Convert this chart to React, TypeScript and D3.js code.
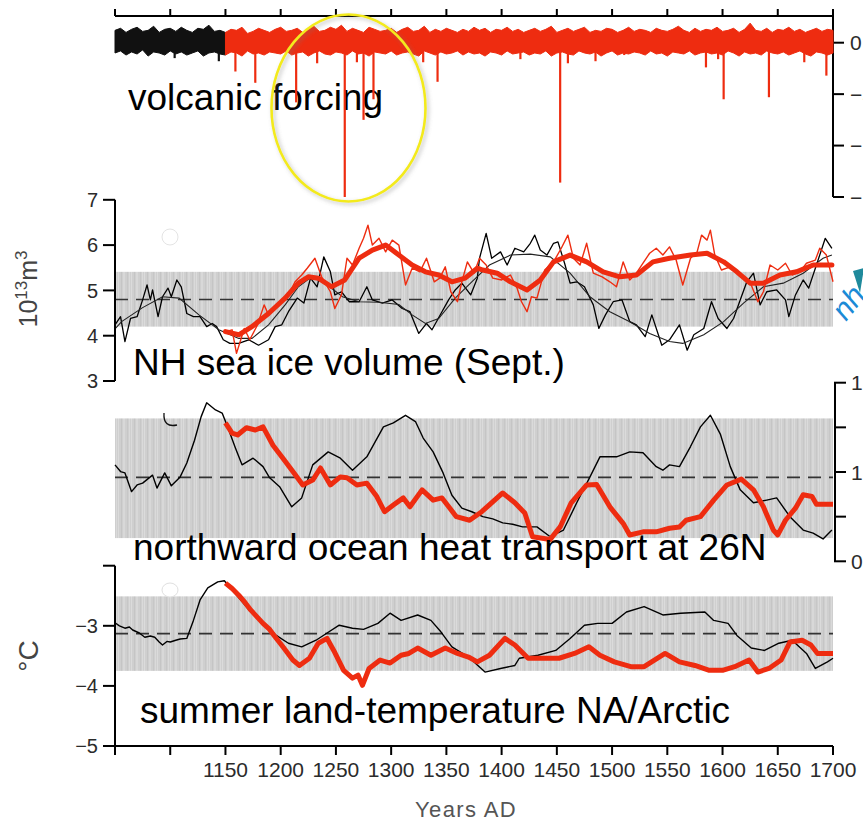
import React from 'react';
import * as d3 from 'd3';

const W = 863;
const H = 821;
const FONT = '"Liberation Sans", Arial, Helvetica, sans-serif';
const RED = '#ee2c10';

// ---- time axis ----
const yearTicks = [1050, 1100, 1150, 1200, 1250, 1300, 1350, 1400, 1450, 1500, 1550, 1600, 1650, 1700];
const yearLabels = [1150, 1200, 1250, 1300, 1350, 1400, 1450, 1500, 1550, 1600, 1650, 1700];
const spinupEnd = 1150;

// ---- volcanic forcing (W m-2), 5-year envelope of the annual series ----
const volcStart = 1050;
const volcStep = 5;
const volcHi = [
  1.2, 1.4, 1.0, 1.3, 1.5, 1.1, 1.2, 1.6, 1.0, 1.3,
  1.4, 1.1, 1.5, 1.2, 1.0, 1.4, 1.3, 1.7, 1.1, 1.2,
  1.0, 1.3, 1.2, 1.5, 0.9, 1.1, 1.4, 1.2, 1.0, 1.3,
  1.5, 1.1, 1.2, 1.4, 1.0, 1.3, 1.6, 1.1, 1.2, 1.5,
  1.3, 1.7, 1.1, 1.4, 1.2, 1.0, 1.5, 1.3, 1.1, 1.2,
  1.4, 1.0, 1.3, 1.5, 1.1, 1.2, 1.6, 1.0, 1.3, 1.1,
  1.4, 1.2, 1.0, 1.3, 1.1, 1.5, 1.2, 1.4, 1.0, 1.3,
  1.2, 1.5, 1.1, 1.3, 1.0, 1.2, 1.4, 1.1, 1.3, 1.6,
  1.0, 1.2, 1.4, 1.1, 1.3, 1.5, 1.0, 1.2, 1.1, 1.4,
  1.3, 1.0, 1.2, 1.5, 1.1, 1.3, 1.2, 1.0, 1.4, 1.2,
  1.1, 1.3, 1.6, 1.2, 1.0, 1.4, 1.1, 1.3, 1.2, 1.5,
  1.1, 1.2, 1.4, 1.0, 1.3, 1.9, 1.2, 1.1, 1.4, 1.0,
  1.3, 1.2, 1.5, 1.1, 1.3, 1.0, 1.2, 1.4, 1.1, 1.3,
  1.2,
];
const volcLo = [
  -1.0, -0.8, -1.2, -0.9, -1.1, -0.7, -1.3, -0.9, -1.0, -1.2,
  -0.8, -1.1, -0.9, -1.2, -1.0, -0.8, -1.3, -1.0, -0.9, -1.1,
  -1.2, -0.9, -1.0, -1.3, -0.8, -1.1, -1.0, -1.2, -0.9, -1.0,
  -1.1, -0.8, -1.2, -1.0, -0.9, -1.3, -1.0, -0.8, -1.1, -1.2,
  -0.9, -1.0, -1.2, -0.8, -1.1, -1.0, -1.3, -0.9, -1.0, -1.1,
  -0.8, -1.2, -1.0, -0.9, -1.1, -1.3, -0.8, -1.0, -1.2, -0.9,
  -1.1, -1.0, -0.8, -1.2, -0.9, -1.1, -1.0, -1.3, -0.9, -1.0,
  -1.2, -0.8, -1.1, -1.0, -0.9, -1.2, -1.0, -1.1, -0.8, -1.3,
  -1.0, -0.9, -1.1, -1.2, -0.8, -1.0, -1.1, -0.9, -1.3, -1.0,
  -0.8, -1.2, -1.0, -1.1, -0.9, -1.0, -1.2, -0.8, -1.1, -1.0,
  -1.3, -0.9, -1.0, -1.1, -0.8, -1.2, -1.0, -0.9, -1.1, -1.0,
  -1.2, -0.8, -1.0, -1.3, -0.9, -1.1, -1.0, -1.2, -0.8, -1.0,
  -1.1, -0.9, -1.2, -1.0, -0.8, -1.1, -1.3, -0.9, -1.0, -1.2,
  -1.0,
];
const eruptionYears = [1104, 1144, 1159, 1177, 1214, 1233, 1258, 1269, 1275, 1284, 1329, 1342, 1417, 1453, 1460, 1485, 1511, 1585, 1596, 1601, 1642, 1674, 1694];
const eruptionForcing = [-1.5, -1.8, -2.8, -3.9, -5.8, -2.0, -15.0, -1.9, -7.5, -5.5, -1.9, -3.8, -1.6, -13.6, -2.0, -1.8, -1.2, -2.4, -1.6, -5.5, -5.3, -1.9, -3.2];
const volcTicks = [0, -5, -10, -15];

// ---- NH September sea-ice volume (10^13 m^3) ----
const iceTicks = [3, 4, 5, 6, 7];
const iceBand = [4.2, 5.41];
const iceMean = 4.8;
const iceCtrlAnnual: [number, number][] = [
  [1050, 4.24], [1055, 4.42], [1059, 3.87], [1064, 4.38], [1070, 4.42], [1075, 4.79], [1079, 5.12], [1082, 4.79],
  [1084, 5.01], [1089, 4.42], [1093, 4.86], [1098, 5.05], [1101, 4.86], [1106, 5.23], [1110, 5.08], [1115, 4.49],
  [1121, 4.42], [1127, 4.42], [1133, 4.2], [1138, 4.27], [1142, 4.2], [1148, 3.91], [1154, 3.83], [1162, 3.83],
  [1171, 3.91], [1180, 3.79], [1189, 3.91], [1195, 4.2], [1201, 4.24], [1207, 4.53], [1215, 4.83], [1221, 4.72],
  [1227, 5.27], [1233, 5.08], [1239, 5.74], [1245, 5.41], [1249, 4.9], [1255, 4.97], [1262, 4.75], [1271, 4.75],
  [1278, 5.08], [1283, 4.79], [1292, 4.72], [1301, 4.79], [1310, 4.6], [1317, 4.53], [1325, 4.05], [1332, 4.27],
  [1337, 4.13], [1346, 4.53], [1352, 4.79], [1358, 5.01], [1364, 5.16], [1372, 4.9], [1378, 5.27], [1380, 5.71],
  [1386, 6.26], [1391, 5.71], [1399, 5.85], [1405, 5.56], [1412, 5.93], [1420, 5.85], [1426, 6.04], [1430, 6.22],
  [1435, 5.89], [1441, 5.78], [1447, 6.04], [1451, 6.07], [1457, 5.6], [1462, 5.16], [1468, 5.19], [1475, 5.08],
  [1483, 4.68], [1488, 4.16], [1494, 4.46], [1501, 4.75], [1509, 4.79], [1516, 4.31], [1522, 4.24], [1530, 3.98],
  [1536, 4.46], [1545, 3.79], [1552, 3.91], [1561, 4.24], [1568, 3.68], [1574, 4.02], [1583, 4.16], [1590, 4.75],
  [1596, 4.38], [1604, 4.16], [1610, 4.38], [1616, 4.79], [1622, 5.19], [1628, 5.38], [1634, 4.68], [1640, 4.97],
  [1649, 5.01], [1657, 4.79], [1660, 4.42], [1666, 4.9], [1673, 5.23], [1678, 5.05], [1685, 5.56], [1693, 6.15],
  [1699, 5.93],
];
const iceCtrlSmooth: [number, number][] = [
  [1050, 4.15], [1056, 4.31], [1075, 4.62], [1093, 4.86], [1108, 4.83], [1126, 4.46], [1144, 4.13], [1162, 3.94],
  [1174, 3.94], [1189, 4.24], [1204, 4.68], [1216, 5.08], [1228, 5.3], [1240, 5.16], [1256, 4.86], [1271, 4.75],
  [1289, 4.74], [1307, 4.69], [1319, 4.46], [1331, 4.27], [1343, 4.38], [1358, 4.83], [1373, 5.19], [1389, 5.56],
  [1408, 5.78], [1426, 5.8], [1444, 5.74], [1462, 5.38], [1480, 4.86], [1498, 4.53], [1516, 4.31], [1534, 4.05],
  [1552, 3.87], [1564, 3.83], [1583, 4.02], [1601, 4.31], [1619, 4.72], [1637, 5.08], [1655, 5.16], [1673, 5.38],
  [1691, 5.71], [1699, 5.78],
];
const iceForcedAnnual: [number, number][] = [
  [1150, 4.09], [1156, 4.13], [1160, 3.61], [1167, 4.16], [1172, 3.91], [1179, 4.24], [1185, 4.68], [1189, 4.46],
  [1195, 4.6], [1201, 4.79], [1207, 4.9], [1213, 5.19], [1219, 5.34], [1224, 5.49], [1231, 5.71], [1237, 5.3],
  [1245, 4.97], [1249, 4.6], [1255, 4.9], [1260, 5.71], [1265, 5.56], [1271, 5.93], [1275, 6.15], [1279, 6.44],
  [1283, 6.0], [1289, 6.15], [1295, 5.85], [1301, 6.11], [1307, 6.0], [1313, 5.12], [1319, 5.49], [1326, 5.41],
  [1332, 5.71], [1339, 5.19], [1344, 5.27], [1349, 5.52], [1354, 4.97], [1360, 4.75], [1364, 5.19], [1369, 5.63],
  [1375, 5.38], [1380, 5.71], [1386, 5.56], [1392, 5.27], [1400, 5.23], [1408, 5.34], [1414, 5.05], [1418, 4.75],
  [1423, 4.53], [1427, 4.86], [1432, 4.83], [1439, 5.45], [1447, 5.63], [1454, 5.93], [1460, 6.22], [1465, 5.71],
  [1471, 5.56], [1477, 6.04], [1483, 5.38], [1491, 5.3], [1498, 5.19], [1504, 5.08], [1510, 5.63], [1516, 5.23],
  [1522, 5.38], [1528, 5.6], [1534, 5.82], [1540, 5.93], [1546, 5.78], [1552, 5.96], [1558, 5.67], [1564, 5.12],
  [1571, 5.71], [1577, 5.85], [1581, 6.22], [1586, 6.11], [1589, 6.33], [1593, 5.78], [1599, 5.45], [1607, 5.52],
  [1613, 5.38], [1619, 5.27], [1626, 5.12], [1632, 4.75], [1637, 4.97], [1643, 5.56], [1650, 5.45], [1657, 5.6],
  [1663, 5.34], [1670, 5.41], [1676, 5.6], [1684, 5.67], [1688, 5.93], [1694, 5.78], [1700, 5.19],
];
const iceForcedSmooth: [number, number][] = [
  [1150, 4.09], [1162, 4.02], [1174, 4.2], [1189, 4.49], [1204, 4.83], [1216, 5.16], [1225, 5.3], [1234, 5.27],
  [1246, 5.08], [1258, 5.23], [1271, 5.71], [1283, 5.89], [1295, 6.0], [1307, 5.78], [1319, 5.56], [1331, 5.41],
  [1343, 5.34], [1355, 5.19], [1367, 5.27], [1378, 5.49], [1383, 5.45], [1396, 5.38], [1408, 5.19], [1423, 5.01],
  [1435, 5.23], [1447, 5.63], [1462, 5.78], [1477, 5.63], [1492, 5.41], [1507, 5.3], [1522, 5.34], [1537, 5.63],
  [1552, 5.71], [1571, 5.78], [1586, 5.82], [1601, 5.63], [1613, 5.41], [1625, 5.16], [1637, 5.16], [1652, 5.34],
  [1667, 5.41], [1682, 5.56], [1699, 5.56],
];

// ---- northward ocean heat transport at 26N (PW) ----
const heatTicks = [0.8, 0.9, 1.0, 1.1, 1.2];
const heatTickLabels = ['0.8', '', '1.0', '', '1.2'];
const heatBand = [0.852, 1.12];
const heatMean = 0.988;
const heatCtrl: [number, number][] = [
  [1050, 1.016], [1055, 1.001], [1059, 0.998], [1065, 0.956], [1070, 0.971], [1075, 0.975], [1082, 0.989], [1084, 0.993],
  [1088, 0.964], [1095, 0.998], [1101, 0.969], [1109, 0.989], [1115, 1.02], [1122, 1.071], [1128, 1.124], [1133, 1.155],
  [1141, 1.139], [1147, 1.132], [1152, 1.101], [1159, 1.054], [1165, 1.016], [1175, 1.031], [1184, 1.012], [1190, 0.987],
  [1199, 0.967], [1210, 0.922], [1219, 0.942], [1229, 1.016], [1243, 1.045], [1254, 1.031], [1265, 1.004], [1278, 1.034],
  [1293, 1.101], [1302, 1.11], [1313, 1.127], [1322, 1.113], [1329, 1.076], [1338, 1.045], [1347, 0.998], [1355, 0.948],
  [1364, 0.919], [1373, 0.911], [1383, 0.9], [1392, 0.895], [1401, 0.886], [1410, 0.883], [1419, 0.877], [1432, 0.877],
  [1444, 0.855], [1456, 0.87], [1468, 0.931], [1480, 0.989], [1489, 1.034], [1504, 1.034], [1516, 1.045], [1528, 1.043],
  [1540, 1.012], [1546, 1.004], [1552, 1.016], [1561, 1.012], [1571, 1.057], [1580, 1.101], [1589, 1.127], [1598, 1.085],
  [1607, 1.012], [1616, 0.96], [1628, 0.931], [1640, 0.937], [1649, 0.942], [1661, 0.9], [1673, 0.87], [1682, 0.863],
  [1691, 0.85], [1699, 0.87],
];
const heatForced: [number, number][] = [
  [1150, 1.11], [1156, 1.087], [1161, 1.083], [1169, 1.099], [1177, 1.094], [1184, 1.101], [1193, 1.06], [1202, 1.031],
  [1211, 1.001], [1220, 0.971], [1229, 0.982], [1236, 1.009], [1245, 0.971], [1254, 0.989], [1260, 0.987], [1269, 0.971],
  [1278, 0.975], [1287, 0.945], [1294, 0.911], [1302, 0.926], [1311, 0.942], [1317, 0.922], [1328, 0.96], [1338, 0.937],
  [1346, 0.942], [1359, 0.9], [1371, 0.892], [1382, 0.911], [1401, 0.953], [1412, 0.931], [1421, 0.908], [1428, 0.855],
  [1444, 0.849], [1453, 0.877], [1463, 0.931], [1477, 0.971], [1486, 0.972], [1498, 0.922], [1510, 0.885], [1516, 0.859],
  [1528, 0.866], [1540, 0.866], [1552, 0.874], [1561, 0.877], [1567, 0.892], [1580, 0.9], [1592, 0.937], [1604, 0.971],
  [1617, 0.984], [1628, 0.96], [1637, 0.922], [1646, 0.87], [1650, 0.859], [1657, 0.892], [1666, 0.919], [1673, 0.949],
  [1681, 0.945], [1685, 0.928], [1700, 0.928],
];

// ---- summer land temperature, North Atlantic / Arctic (degC) ----
const tempTicks = [-5, -4, -3, -2];
const tempTickLabels = ['\u22125', '\u22124', '\u22123', ''];
const tempBand = [-3.75, -2.51];
const tempMean = -3.13;
const tempCtrl: [number, number][] = [
  [1050, -2.95], [1054, -3.0], [1059, -3.04], [1063, -3.02], [1066, -3.07], [1072, -3.12], [1077, -3.19], [1082, -3.17],
  [1086, -3.19], [1090, -3.27], [1093, -3.32], [1097, -3.26], [1100, -3.27], [1105, -3.24], [1109, -3.22], [1115, -3.21],
  [1121, -2.91], [1127, -2.57], [1134, -2.37], [1143, -2.27], [1149, -2.25], [1160, -2.49], [1173, -2.77], [1186, -2.99],
  [1196, -3.16], [1207, -3.29], [1219, -3.35], [1232, -3.24], [1242, -3.12], [1253, -2.99], [1265, -3.04], [1275, -3.06],
  [1288, -2.96], [1299, -2.79], [1309, -2.91], [1324, -2.82], [1336, -2.91], [1345, -3.1], [1355, -3.35], [1370, -3.52],
  [1385, -3.77], [1399, -3.71], [1412, -3.66], [1416, -3.54], [1433, -3.49], [1449, -3.41], [1462, -3.21], [1475, -2.99],
  [1487, -2.96], [1500, -2.96], [1513, -2.77], [1529, -2.68], [1546, -2.82], [1562, -2.79], [1584, -2.77], [1592, -2.91],
  [1605, -2.96], [1613, -3.16], [1626, -3.37], [1638, -3.41], [1651, -3.29], [1663, -3.24], [1676, -3.46], [1684, -3.71],
  [1695, -3.6], [1700, -3.54],
];
const tempForced: [number, number][] = [
  [1150, -2.29], [1156, -2.38], [1162, -2.49], [1168, -2.62], [1173, -2.74], [1179, -2.86], [1184, -2.96], [1190, -3.06],
  [1194, -3.16], [1202, -3.35], [1211, -3.57], [1217, -3.66], [1226, -3.54], [1234, -3.29], [1242, -3.21], [1248, -3.41],
  [1257, -3.74], [1265, -3.87], [1270, -3.82], [1274, -3.99], [1280, -3.71], [1290, -3.57], [1299, -3.62], [1309, -3.49],
  [1316, -3.46], [1324, -3.37], [1336, -3.49], [1349, -3.37], [1360, -3.46], [1370, -3.52], [1378, -3.6], [1389, -3.49],
  [1403, -3.21], [1412, -3.32], [1424, -3.54], [1439, -3.54], [1452, -3.54], [1466, -3.46], [1479, -3.35], [1489, -3.49],
  [1502, -3.6], [1517, -3.68], [1529, -3.68], [1548, -3.46], [1561, -3.6], [1575, -3.66], [1588, -3.74], [1600, -3.74],
  [1611, -3.68], [1624, -3.57], [1632, -3.77], [1642, -3.71], [1653, -3.57], [1661, -3.27], [1672, -3.24], [1680, -3.32],
  [1686, -3.46], [1700, -3.46],
];

// ---- scales ----
const x = d3.scaleLinear().domain([1050, 1700]).range([115, 833]);
const yVolc = d3.scaleLinear().domain([0, -15]).range([42.7, 197]);
const yIce = d3.scaleLinear().domain([3, 7]).range([381, 199.8]);
const yHeat = d3.scaleLinear().domain([0.8, 1.2]).range([561.3, 382.7]);
const yTemp = d3.scaleLinear().domain([-5, -2]).range([746, 565.7]);

const mkLine = (y: d3.ScaleLinear<number, number>) =>
  d3.line<[number, number]>().x((d) => x(d[0])).y((d) => y(d[1])).curve(d3.curveLinear);

const volcRows = volcHi.map((hi, i) => ({ year: volcStart + i * volcStep, hi, lo: volcLo[i] }));
const volcArea = d3
  .area<{ year: number; hi: number; lo: number }>()
  .x((d) => x(d.year))
  .y0((d) => yVolc(d.lo))
  .y1((d) => yVolc(d.hi));

const tickText = { fontFamily: FONT, fontSize: 20, fill: '#2b2b2b' } as const;
const labelText = { fontFamily: FONT, fontSize: 37, fill: '#000' } as const;

function Band({ y0, y1 }: { y0: number; y1: number }) {
  return <rect x={x(1050)} y={Math.min(y0, y1)} width={x(1700) - x(1050)} height={Math.abs(y1 - y0)} fill="url(#stripes)" />;
}

function MeanLine({ y }: { y: number }) {
  return <line x1={x(1050)} x2={x(1700)} y1={y} y2={y} stroke="#333" strokeWidth={1.6} strokeDasharray="13 8" />;
}

export default function App() {
  const iceL = mkLine(yIce);
  const heatL = mkLine(yHeat);
  const tempL = mkLine(yTemp);
  const spin = volcRows.filter((d) => d.year <= spinupEnd);
  const forced = volcRows.filter((d) => d.year >= spinupEnd);

  return (
    <svg
      width={W}
      height={H}
      viewBox={`0 0 ${W} ${H}`}
      style={{ position: 'absolute', left: 0, top: 0, background: '#fff', overflow: 'hidden' }}
    >
      <defs>
        <pattern id="stripes" patternUnits="userSpaceOnUse" width="13" height="10">
          <rect width="13" height="10" fill="#cfcfcf" />
          <rect x="1" width="1" height="10" fill="#dbdbdb" />
          <rect x="4" width="1" height="10" fill="#c5c5c5" />
          <rect x="6" width="2" height="10" fill="#d8d8d8" />
          <rect x="10" width="1" height="10" fill="#c7c7c7" />
          <rect x="12" width="1" height="10" fill="#dadada" />
        </pattern>
        <filter id="soft" x="-20%" y="-20%" width="140%" height="140%">
          <feDropShadow dx="2" dy="2" stdDeviation="2" floodColor="#777" floodOpacity="0.45" />
        </filter>
      </defs>

      {/* ===== volcanic forcing ===== */}
      <line x1={x(1050)} x2={x(1700)} y1={16} y2={16} stroke="#000" strokeWidth={2} />
      {yearTicks.map((t) => (
        <line key={`tt${t}`} x1={x(t)} x2={x(t)} y1={16} y2={9} stroke="#000" strokeWidth={2} />
      ))}
      <line x1={833} x2={833} y1={15} y2={yVolc(-15)} stroke="#000" strokeWidth={2} />
      {volcTicks.map((t) => (
        <g key={`vt${t}`}>
          <line x1={833} x2={844} y1={yVolc(t)} y2={yVolc(t)} stroke="#000" strokeWidth={2} />
          <text x={850} y={yVolc(t)} dy="0.36em" {...tickText} fontSize={21}>
            {t === 0 ? '0' : `\u2212${-t}`}
          </text>
        </g>
      ))}
      <text x={128} y={110} {...labelText}>volcanic forcing</text>
      <path d={volcArea(spin) ?? ''} fill="#111" stroke="#111" strokeWidth={1} />
      <path d={volcArea(forced) ?? ''} fill={RED} stroke={RED} strokeWidth={1} />
      {eruptionYears.map((yr, i) => (
        <line
          key={`e${yr}`}
          x1={x(yr)}
          x2={x(yr)}
          y1={yVolc(-0.8)}
          y2={yVolc(eruptionForcing[i])}
          stroke={yr < spinupEnd ? '#111' : RED}
          strokeWidth={2.2}
        />
      ))}

      {/* ===== sea-ice volume ===== */}
      <Band y0={yIce(iceBand[0])} y1={yIce(iceBand[1])} />
      <MeanLine y={yIce(iceMean)} />
      <ellipse cx={170} cy={237} rx={8} ry={8} fill="#fff" stroke="#e4e4e4" strokeWidth={1} />
      <path d={iceL(iceCtrlAnnual) ?? ''} fill="none" stroke="#000" strokeWidth={1.3} strokeLinejoin="round" />
      <path d={iceL(iceCtrlSmooth) ?? ''} fill="none" stroke="#222" strokeWidth={1.1} />
      <path d={iceL(iceForcedAnnual) ?? ''} fill="none" stroke={RED} strokeWidth={1.4} strokeLinejoin="round" />
      <path d={iceL(iceForcedSmooth) ?? ''} fill="none" stroke={RED} strokeWidth={5} strokeLinejoin="round" strokeLinecap="round" />
      <line x1={115} x2={115} y1={yIce(7)} y2={yIce(3)} stroke="#000" strokeWidth={2} />
      {iceTicks.map((t) => (
        <g key={`it${t}`}>
          <line x1={103} x2={115} y1={yIce(t)} y2={yIce(t)} stroke="#000" strokeWidth={2} />
          <text x={98} y={yIce(t)} dy="0.36em" textAnchor="end" {...tickText}>{t}</text>
        </g>
      ))}
      <text transform="translate(37,289) rotate(-90)" textAnchor="middle" fontFamily={FONT} fontSize={25} fill="#444">
        10<tspan fontSize={17} dy={-10}>13</tspan>
        <tspan dy={10}>m</tspan>
        <tspan fontSize={17} dy={-10}>3</tspan>
      </text>
      <text x={133} y={375} {...labelText}>NH sea ice volume (Sept.)</text>

      {/* ===== ocean heat transport ===== */}
      <Band y0={yHeat(heatBand[0])} y1={yHeat(heatBand[1])} />
      <MeanLine y={yHeat(heatMean)} />
      <path d="M 164 413 Q 163 428 177 425" fill="none" stroke="#111" strokeWidth={1.3} />
      <path d={heatL(heatCtrl) ?? ''} fill="none" stroke="#000" strokeWidth={1.4} strokeLinejoin="round" />
      <path d={heatL(heatForced) ?? ''} fill="none" stroke={RED} strokeWidth={5} strokeLinejoin="round" />
      <line x1={835} x2={835} y1={yHeat(1.2)} y2={yHeat(0.8)} stroke="#000" strokeWidth={2} />
      {heatTicks.map((t, i) => (
        <g key={`ht${t}`}>
          <line x1={834} x2={846} y1={yHeat(t)} y2={yHeat(t)} stroke="#000" strokeWidth={2} />
          <text x={851} y={yHeat(t)} dy="0.36em" {...tickText} fontSize={21}>{heatTickLabels[i]}</text>
        </g>
      ))}
      <text x={133} y={560} {...labelText}>northward ocean heat transport at 26N</text>

      {/* ===== summer land temperature ===== */}
      <Band y0={yTemp(tempBand[0])} y1={yTemp(tempBand[1])} />
      <MeanLine y={yTemp(tempMean)} />
      <ellipse cx={170} cy={590} rx={8} ry={7} fill="#fff" stroke="#e0e0e0" strokeWidth={1} />
      <path d={tempL(tempCtrl) ?? ''} fill="none" stroke="#000" strokeWidth={1.4} strokeLinejoin="round" />
      <path d={tempL(tempForced) ?? ''} fill="none" stroke={RED} strokeWidth={5} strokeLinejoin="round" />
      <line x1={115} x2={115} y1={yTemp(-2)} y2={yTemp(-5)} stroke="#000" strokeWidth={2} />
      {tempTicks.map((t, i) => (
        <g key={`tt2${t}`}>
          <line x1={103} x2={115} y1={yTemp(t)} y2={yTemp(t)} stroke="#000" strokeWidth={2} />
          <text x={98} y={yTemp(t)} dy="0.36em" textAnchor="end" {...tickText}>{tempTickLabels[i]}</text>
        </g>
      ))}
      <text transform="translate(38,656) rotate(-90)" textAnchor="middle" fontFamily={FONT} fontSize={28} fill="#444">
        °C
      </text>
      <text x={140} y={723} {...labelText}>summer land-temperature NA/Arctic</text>

      {/* ===== time axis ===== */}
      <line x1={x(1050)} x2={x(1700)} y1={746} y2={746} stroke="#000" strokeWidth={2} />
      {yearTicks.map((t) => (
        <line key={`bt${t}`} x1={x(t)} x2={x(t)} y1={746} y2={755} stroke="#000" strokeWidth={2} />
      ))}
      {yearLabels.map((t) => (
        <text key={`bl${t}`} x={x(t)} y={777} textAnchor="middle" {...tickText} fontSize={21}>
          {t}
        </text>
      ))}
      <text x={466} y={817} textAnchor="middle" fontFamily={FONT} fontSize={22} letterSpacing={1.4} fill="#555">
        Years AD
      </text>

      {/* ===== annotations ===== */}
      <path d="M 853 271 L 864 268 L 860 293 Z" fill="#1f8a9c" />
      <text transform="translate(846,322) rotate(-52)" fontFamily={FONT} fontSize={30} fontStyle="italic" fill="#1b8ad6">
        nh
      </text>
      <ellipse cx={348.5} cy={108} rx={77} ry={93.5} fill="none" stroke="#f3ea1c" strokeWidth={2.6} filter="url(#soft)" />
    </svg>
  );
}
